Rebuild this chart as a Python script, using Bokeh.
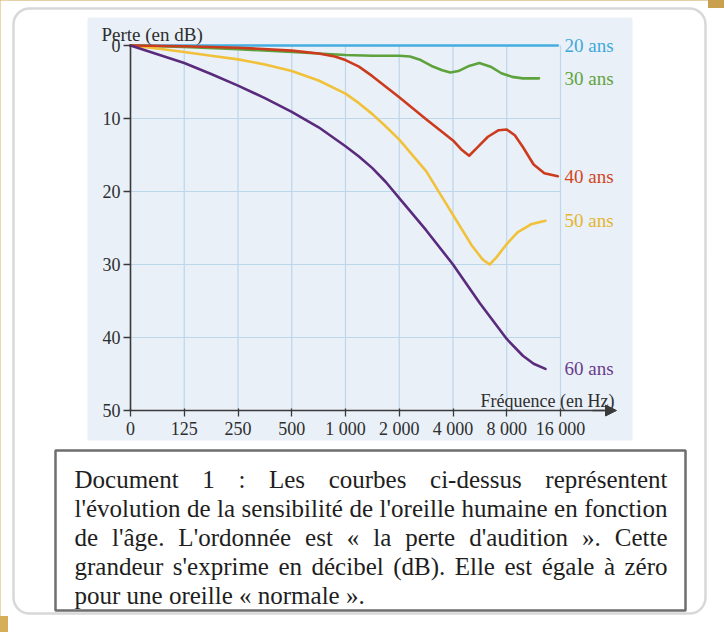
from bokeh.plotting import figure
from bokeh.models import Range1d, LinearAxis, FixedTicker, Arrow, NormalHead, BoxAnnotation
from bokeh.core.properties import value
from bokeh.embed import file_html
from bokeh.resources import INLINE

# ---------------- data ----------------
freq_labels = ["0", "125", "250", "500", "1 000", "2 000", "4 000", "8 000", "16 000"]
loss_ticks = [0, 10, 20, 30, 40, 50]
ages = ["20 ans", "30 ans", "40 ans", "50 ans", "60 ans"]

# x = position along the frequency axis (index of the tick: 0 -> "0", 8 -> "16 000")
x20 = [0, 7.95]
y20 = [0, 0]

x30 = [0, 1, 2, 3, 4, 4.5, 5, 5.2, 5.4, 5.6, 5.8, 5.95, 6.1, 6.3, 6.49, 6.7, 6.9, 7.1, 7.3, 7.6]
y30 = [0, 0.2, 0.5, 0.9, 1.3, 1.4, 1.4, 1.5, 2.0, 2.8, 3.4, 3.7, 3.5, 2.8, 2.4, 2.9, 3.8, 4.3, 4.5, 4.5]

x40 = [0, 1, 2, 3, 3.5, 3.8, 4, 4.25, 4.5, 5, 5.5, 6, 6.15, 6.3, 6.45, 6.65, 6.85, 7.0, 7.15, 7.3, 7.5, 7.7, 7.95]
y40 = [0, 0.1, 0.3, 0.7, 1.1, 1.5, 2.0, 2.9, 4.2, 7.1, 10.1, 13.0, 14.2, 15.1, 14.0, 12.5, 11.6, 11.5, 12.3, 13.9, 16.3, 17.5, 17.9]

x50 = [0, 0.5, 1, 1.5, 2, 2.5, 3, 3.5, 4, 4.25, 4.5, 4.75, 5, 5.5, 6, 6.2, 6.35, 6.55, 6.68, 6.8, 7.0, 7.2, 7.45, 7.72]
y50 = [0, 0.4, 0.9, 1.4, 1.9, 2.6, 3.5, 4.8, 6.6, 7.9, 9.4, 11.1, 12.9, 17.2, 23.2, 25.6, 27.4, 29.3, 30.0, 29.1, 27.2, 25.6, 24.5, 24.0]

x60 = [0, 0.5, 1, 1.5, 2, 2.5, 3, 3.5, 4, 4.25, 4.5, 4.75, 5, 5.5, 6, 6.5, 7, 7.3, 7.5, 7.72]
y60 = [0, 1.2, 2.4, 3.9, 5.5, 7.2, 9.1, 11.2, 13.8, 15.2, 16.8, 18.7, 20.9, 25.3, 30.0, 35.3, 40.2, 42.5, 43.6, 44.3]

line_colors = ["#45aee0", "#5ea23c", "#cc3b1e", "#f1c13a", "#5a2b7c"]
label_colors = ["#3fa9d9", "#5fa33d", "#d2461d", "#e5b52f", "#6a3d8c"]

y_title = "Perte (en dB)"
x_title = "Fréquence (en Hz)"
caption_lines = [
    "Document 1 : Les courbes ci-dessus représentent",
    "l'évolution de la sensibilité de l'oreille humaine en fonction",
    "de l'âge. L'ordonnée est « la perte d'audition ». Cette",
    "grandeur s'exprime en décibel (dB). Elle est égale à zéro",
    "pour une oreille « normale ».",
]

# ---------------- layout helpers (page pixels -> data units) ----------------
FIG_W, FIG_H = 708, 616
AX_X0, AX_STEP = 138.0, 53.75   # page x of tick 0, pixels per tick
AX_Y0, AX_DB = 53.0, 7.3        # page y of 0 dB, pixels per dB


def px_x(px):
    return (px - AX_X0) / AX_STEP


def px_y(py):
    return (py - AX_Y0) / AX_DB


SERIF = "Liberation Serif"

p = figure(width=FIG_W, height=FIG_H, output_backend="svg", toolbar_location=None,
           x_range=Range1d(px_x(8), px_x(8 + FIG_W)),
           y_range=Range1d(px_y(8 + FIG_H), px_y(8)),
           x_axis_type=None, y_axis_type=None, min_border=0)
p.outline_line_color = None
p.background_fill_color = "white"
p.border_fill_color = "white"

# rounded white panel
panel = BoxAnnotation(left=px_x(21), right=px_x(713), top=px_y(16), bottom=px_y(621),
                      fill_color="white", fill_alpha=1, line_color="#7d7d7d", line_width=2.5,
                      border_radius=16, level="image")
p.add_layout(panel)

# light blue chart background
p.quad(left=[px_x(95)], right=[px_x(640)], top=[px_y(25)], bottom=[px_y(448)],
       fill_color="#e9f0f8", line_color=None)

# caption box
p.quad(left=[px_x(63)], right=[px_x(693)], top=[px_y(458)], bottom=[px_y(618)],
       fill_color="white", line_color="#6e6e6e", line_width=2.5)

# grid
n_ticks = len(freq_labels)
tick_pos = list(range(n_ticks))
p.segment(x0=tick_pos[1:], y0=[loss_ticks[0]] * (n_ticks - 1), x1=tick_pos[1:],
          y1=[loss_ticks[-1]] * (n_ticks - 1), line_color="#bcd6ea", line_width=1.2)
p.segment(x0=[0] * (len(loss_ticks) - 2), y0=loss_ticks[1:-1], x1=[tick_pos[-1]] * (len(loss_ticks) - 2),
          y1=loss_ticks[1:-1], line_color="#bcd6ea", line_width=1.2)

# curves
series = [(x20, y20), (x30, y30), (x40, y40), (x50, y50), (x60, y60)]
for idx in [0, 1, 3, 2, 4]:
    xs, ys = series[idx]
    p.line(xs, ys, line_color=line_colors[idx], line_width=2.6, line_join="round", line_cap="round")

# curve labels at the end of each curve
lab_x = px_x(572)
p.text(x=[lab_x] * len(ages), y=[s[1][-1] for s in series], text=ages,
       text_color=label_colors, text_font=value(SERIF), text_font_size="19px",
       text_align="left", text_baseline="middle")

# axes
xaxis = LinearAxis(fixed_location=loss_ticks[-1], ticker=FixedTicker(ticks=tick_pos),
                   major_label_overrides={i: lab for i, lab in enumerate(freq_labels)},
                   bounds=(0, px_x(612)))
yaxis = LinearAxis(fixed_location=0, ticker=FixedTicker(ticks=loss_ticks), bounds=(0, 50))
for ax in (xaxis, yaxis):
    ax.axis_line_color = "#3a3a3a"
    ax.axis_line_width = 1.6
    ax.major_tick_line_color = "#3a3a3a"
    ax.major_tick_line_width = 1.3
    ax.minor_tick_line_color = None
    ax.major_label_text_font = SERIF
    ax.major_label_text_font_size = "18px"
    ax.major_label_text_color = "#2e2e2e"
xaxis.major_tick_out = 6
xaxis.major_tick_in = 2
xaxis.major_label_standoff = 2
yaxis.major_tick_out = 7
yaxis.major_tick_in = 0
yaxis.major_label_standoff = 3
p.add_layout(xaxis, "below")
p.add_layout(yaxis, "left")

p.add_layout(Arrow(end=NormalHead(size=11, fill_color="#3a3a3a", line_color="#3a3a3a"),
                   x_start=px_x(600), y_start=loss_ticks[-1], x_end=px_x(624), y_end=loss_ticks[-1],
                   line_color="#3a3a3a", line_width=1.6))

# axis titles
p.text(x=[px_x(109)], y=[px_y(42)], text=[y_title], text_font=value(SERIF), text_font_size="19px",
       text_color="#2e2e2e", text_align="left", text_baseline="alphabetic")
p.text(x=[px_x(622)], y=[px_y(408)], text=[x_title], text_font=value(SERIF), text_font_size="18px",
       text_color="#2e2e2e", text_align="right", text_baseline="alphabetic")

# caption (justified lines, Times metrics)
CAP_FS = 25
CAP_LEFT, CAP_RIGHT = 82, 675
CAP_BASE, CAP_STEP = 487, 29
W = {' ': 250, 'D': 722, 'o': 500, 'c': 444, 'u': 500, 'm': 778, 'e': 444, 'n': 500, 't': 278,
     '1': 500, ':': 278, 'L': 611, 's': 389, 'r': 333, 'b': 500, 'i': 278, '-': 333, 'd': 500,
     'p': 500, 'é': 444, 'l': 278, "'": 180, 'v': 500, 'a': 444, 'h': 500, 'f': 333, 'g': 500,
     'â': 444, '.': 250, '«': 500, '»': 500, 'x': 500, '(': 333, ')': 333, 'B': 667, 'E': 611,
     'à': 444, 'z': 444, 'C': 667, 'q': 500}


def text_w(s):
    return sum(W.get(c, 500) for c in s) / 1000.0 * CAP_FS


lx, ly, lt, rx, ry, rt = [], [], [], [], [], []
for i, line in enumerate(caption_lines):
    yb = px_y(CAP_BASE + i * CAP_STEP)
    if i < len(caption_lines) - 1:
        words = line.split(" ")
        widths = [text_w(w) for w in words]
        gap = (CAP_RIGHT - CAP_LEFT - sum(widths)) / (len(words) - 1)
        pos = CAP_LEFT
        for w, wd in zip(words[:-1], widths[:-1]):
            lx.append(px_x(pos)); ly.append(yb); lt.append(w)
            pos += wd + gap
        rx.append(px_x(CAP_RIGHT)); ry.append(yb); rt.append(words[-1])
    else:
        lx.append(px_x(CAP_LEFT)); ly.append(yb); lt.append(line)

p.text(x=lx, y=ly, text=lt, text_font=value(SERIF), text_font_size=f"{CAP_FS}px",
       text_color="#1e1e1e", text_align="left", text_baseline="alphabetic")
p.text(x=rx, y=ry, text=rt, text_font=value(SERIF), text_font_size=f"{CAP_FS}px",
       text_color="#1e1e1e", text_align="right", text_baseline="alphabetic")

html = file_html(p, INLINE)
page_style = ("<style>html{background:"
              "linear-gradient(#d6ad58,#d6ad58) left top/8px 100% no-repeat,"
              "linear-gradient(#c9a04e,#c9a04e) left top/100% 8px no-repeat,#ffffff;"
              "min-height:100%;}body{background:transparent;}</style>")
html = html.replace("</head>", page_style + "</head>", 1)
open("out.html", "w").write(html)
